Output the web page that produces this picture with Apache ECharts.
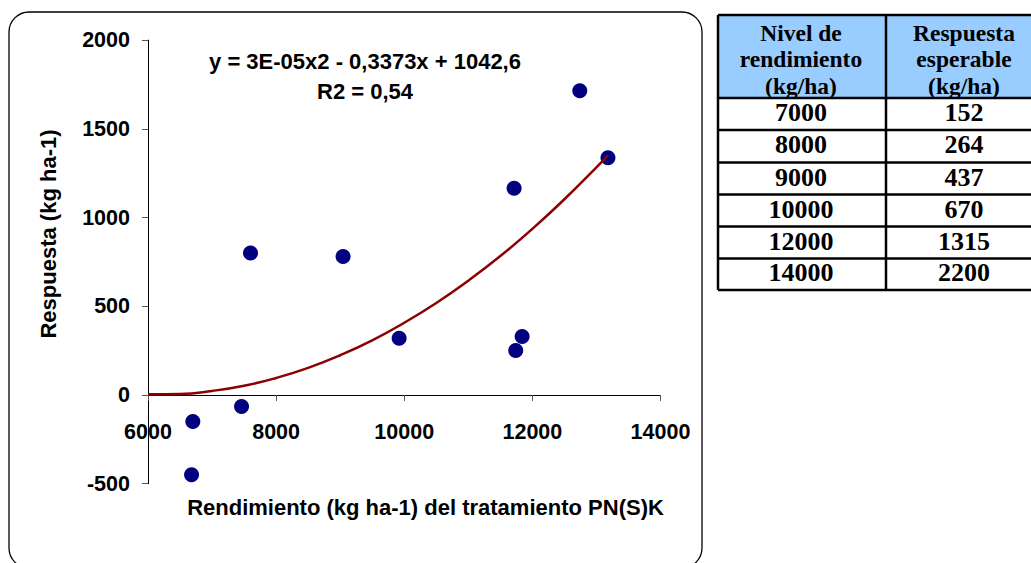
<!DOCTYPE html>
<html>
<head>
<meta charset="utf-8">
<script src="https://cdn.jsdelivr.net/npm/echarts@6/dist/echarts.min.js"></script>
<style>
html,body{margin:0;padding:0;background:#fff;}
#chart{width:1031px;height:563px;}
</style>
</head>
<body>
<div id="chart"></div>
<script>
// ---- data ----
const rendimiento = [6700, 6680, 7460, 7600, 9045, 9920, 11715, 11740, 11840, 12740, 13180];
const respuesta   = [-150, -450, -65, 800, 780, 320, 1165, 250, 330, 1715, 1337];
const trendX = [6000, 6500, 7000, 7500, 8000, 8500, 9000, 9500, 10000, 10500, 11000, 11500, 12000, 12500, 13000, 13180];
const trendY = [4, 6, 23, 52, 96, 153, 224, 308, 407, 518, 644, 783, 936, 1103, 1283, 1350];
const equationLines = ['y = 3E-05x2 - 0,3373x + 1042,6', 'R2 = 0,54'];
const xTitle = 'Rendimiento (kg ha-1) del tratamiento PN(S)K';
const yTitle = 'Respuesta (kg ha-1)';
const tableHeader1 = ['Nivel de', 'rendimiento', '(kg/ha)'];
const tableHeader2 = ['Respuesta', 'esperable', '(kg/ha)'];
const tableLevels = [7000, 8000, 9000, 10000, 12000, 14000];
const tableResponses = [152, 264, 437, 670, 1315, 2200];

const chart = echarts.init(document.getElementById('chart'), null, {renderer: 'svg'});
const SANS = '"Liberation Sans", Arial, sans-serif';
const SERIF = '"Liberation Serif", "Times New Roman", serif';

// ---- table geometry (layout only) ----
const tL = 718, tM = 886, tR = 1042, tTop = 15, tHead = 98;
const rowLines = [98, 130, 162.5, 194.5, 226.5, 258.5, 290];
const c1 = 801, c2 = 964;
const graphics = [];
graphics.push({type:'rect', shape:{x:9, y:12, width:693, height:556, r:20}, style:{fill:'none', stroke:'#000', lineWidth:1.3}, silent:true});
graphics.push({type:'rect', shape:{x:tL, y:tTop, width:tR-tL, height:tHead-tTop}, style:{fill:'#99CCFF'}, silent:true});
const lw = 2.5;
graphics.push({type:'line', shape:{x1:tL, y1:tTop, x2:tR, y2:tTop}, style:{stroke:'#000', lineWidth:lw}});
rowLines.forEach(y => graphics.push({type:'line', shape:{x1:tL, y1:y, x2:tR, y2:y}, style:{stroke:'#000', lineWidth:lw}}));
[tL, tM, tR].forEach(x => graphics.push({type:'line', shape:{x1:x, y1:tTop, x2:x, y2:rowLines[rowLines.length-1]}, style:{stroke:'#000', lineWidth:lw}}));
const headY = [32.5, 59, 85.5];
tableHeader1.forEach((t, i) => graphics.push({type:'text', x:c1, y:headY[i], style:{text:t, font:'bold 23.5px ' + SERIF, fill:'#000', textAlign:'center', textVerticalAlign:'middle'}}));
tableHeader2.forEach((t, i) => graphics.push({type:'text', x:c2, y:headY[i], style:{text:t, font:'bold 23.5px ' + SERIF, fill:'#000', textAlign:'center', textVerticalAlign:'middle'}}));
tableLevels.forEach((v, i) => {
  const cy = (rowLines[i] + rowLines[i+1]) / 2 - 1.5;
  graphics.push({type:'text', x:c1, y:cy, style:{text:String(v), font:'bold 26px ' + SERIF, fill:'#000', textAlign:'center', textVerticalAlign:'middle'}});
  graphics.push({type:'text', x:c2, y:cy, style:{text:String(tableResponses[i]), font:'bold 26px ' + SERIF, fill:'#000', textAlign:'center', textVerticalAlign:'middle'}});
});
// equation
graphics.push({type:'text', x:365, y:61, style:{text:equationLines[0], font:'bold 22px ' + SANS, fill:'#000', textAlign:'center', textVerticalAlign:'middle'}});
graphics.push({type:'text', x:365, y:91, style:{text:equationLines[1], font:'bold 22px ' + SANS, fill:'#000', textAlign:'center', textVerticalAlign:'middle'}});
// axis titles
graphics.push({type:'text', x:425.5, y:507.5, style:{text:xTitle, font:'bold 22px ' + SANS, fill:'#000', textAlign:'center', textVerticalAlign:'middle'}});
graphics.push({type:'text', x:48, y:234, rotation:Math.PI/2, style:{text:yTitle, font:'bold 22px ' + SANS, fill:'#000', textAlign:'center', textVerticalAlign:'middle'}});

chart.setOption({
  animation: false,
  backgroundColor: '#fff',
  grid: {left:148, right:370.5, top:40.1, bottom:79.3, containLabel:false},
  xAxis: {
    type:'value', min:6000, max:14000, interval:2000,
    axisLine:{show:true, onZero:true, lineStyle:{color:'#000', width:1}},
    axisTick:{show:true, inside:false, length:6, lineStyle:{color:'#555', width:1}},
    axisLabel:{show:true, margin:-63, color:'#000', fontFamily:SANS, fontWeight:'bold', fontSize:21.5,
               showMinLabel:true, showMaxLabel:true, formatter: v => String(v)},
    splitLine:{show:false}
  },
  yAxis: {
    type:'value', min:-500, max:2000, interval:500,
    axisLine:{show:true, onZero:false, lineStyle:{color:'#000', width:1}},
    axisTick:{show:true, inside:false, length:6, lineStyle:{color:'#555', width:1}},
    axisLabel:{show:true, margin:18, color:'#000', fontFamily:SANS, fontWeight:'bold', fontSize:21.5,
               showMinLabel:true, showMaxLabel:true, formatter: v => String(v)},
    splitLine:{show:false}
  },
  series: [
    {type:'scatter', data: rendimiento.map((x, i) => [x, respuesta[i]]), symbol:'circle', symbolSize:15,
     itemStyle:{color:'#000080', opacity:1}, z:2},
    {type:'line', data: trendX.map((x, i) => [x, trendY[i]]), smooth:true, showSymbol:false, symbol:'none',
     lineStyle:{color:'#8B0000', width:2.5}, z:3}
  ],
  graphic: graphics
});
</script>
</body>
</html>
